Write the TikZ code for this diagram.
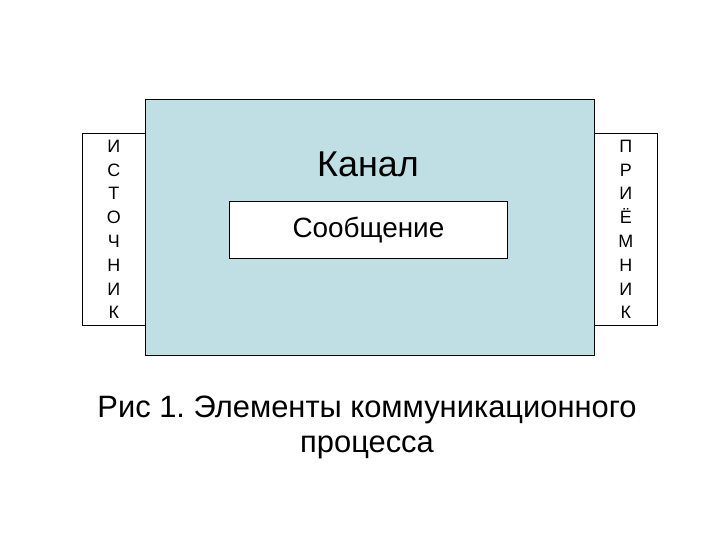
\documentclass[tikz,border=0pt]{standalone}
\usepackage{fontspec}
\setmainfont{Liberation Sans}
\frenchspacing
\begin{document}
\begin{tikzpicture}[x=1bp,y=-1bp,
  box/.style={draw=black,line width=0.8bp},
  letters/.style={align=center,font=\fontsize{18}{23.9}\selectfont,inner sep=0pt}]
\useasboundingbox (0,0) rectangle (720,540);
\definecolor{chan}{HTML}{C0DFE4}
\node[box,fill=chan,minimum width=449bp,minimum height=256bp,inner sep=0pt,anchor=north west] (canal) at (145,99) {};
\node[box,fill=white,minimum width=63bp,minimum height=192bp,inner sep=0pt,anchor=north west] (src) at (82,133) {};
\node[box,fill=white,minimum width=63bp,minimum height=192bp,inner sep=0pt,anchor=north west] (dst) at (594,133) {};
\node[letters] (srct) at (src.center) {И\\С\\Т\\О\\Ч\\Н\\И\\К};
\node[letters] (dstt) at (dst.center) {П\\Р\\И\\Ё\\М\\Н\\И\\К};
\node[font=\fontsize{36}{40}\selectfont,inner sep=0pt] (canalt) at (368,164) {Канал};
\node[box,fill=white,minimum width=278bp,minimum height=57bp,inner sep=0pt,anchor=north west] (msg) at (229,201) {};
\node[font=\fontsize{28}{32}\selectfont,inner sep=0pt] (msgt) at (msg.center) {Сообщение};
\node[font=\fontsize{31}{35}\selectfont,align=center,inner sep=0pt] (cap) at (367,427) {Рис 1. Элементы коммуникационного\\процесса};
\end{tikzpicture}
\end{document}
